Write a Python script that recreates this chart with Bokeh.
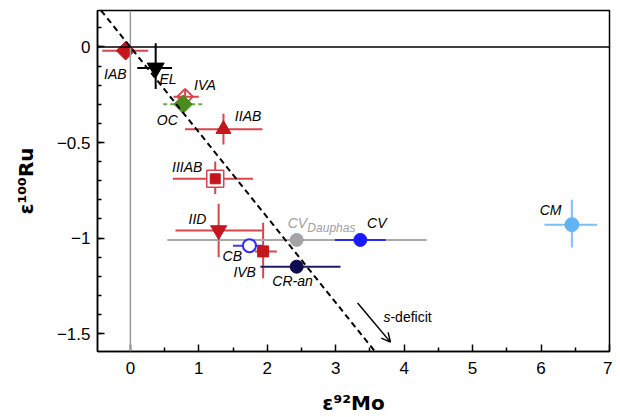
import math
from bokeh.plotting import figure
from bokeh.models import FixedTicker, Slope, Span, Arrow, OpenHead, ColumnDataSource
from bokeh.core.properties import value
from bokeh.embed import file_html
from bokeh.resources import INLINE

# ---- data ----
names = ["IAB", "EL", "IVA", "OC", "IIAB", "IIIAB", "IID", "CB", "IVB",
         "CV_Dauphas", "CV", "CR-an", "CM"]
mo92 = [-0.07, 0.37, 0.80, 0.77, 1.36, 1.24, 1.29, 1.74, 1.94, 2.43, 3.36, 2.43, 6.45]
ru100 = [-0.02, -0.11, -0.26, -0.30, -0.43, -0.69, -0.96, -1.04, -1.07, -1.01, -1.01, -1.15, -0.93]
mo92_lo = [-0.41, 0.10, 0.63, 0.48, 0.80, 0.62, 0.66, 1.50, 1.82, 0.54, 2.99, 1.90, 6.05]
mo92_hi = [0.26, 0.61, 1.00, 1.05, 1.93, 1.79, 1.93, 1.95, 2.14, 4.33, 3.73, 3.07, 6.82]
ru100_lo = [-0.05, -0.22, -0.30, -0.32, -0.51, -0.77, -1.10, -1.06, -1.21, -1.03, -1.03, -1.16, -1.05]
ru100_hi = [0.01, 0.02, -0.22, -0.28, -0.35, -0.60, -0.82, -1.02, -0.92, -0.99, -0.99, -1.14, -0.80]

# reference line of s-process deficit
sdef_slope = -0.446
arrow_from = (3.32, -1.34)
arrow_to = (3.80, -1.545)
arrow_label_at = (3.80, -1.415)

# label positions
label_x = [-0.22, 0.55, 1.09, 0.54, 1.72, 0.83, 0.98, 1.49, 1.67, 2.44, 3.60, 2.37, 6.14]
label_y = [-0.14, -0.165, -0.20, -0.38, -0.36, -0.63, -0.90, -1.095, -1.18, -0.92, -0.92, -1.225, -0.855]

x_ticks = [0, 1, 2, 3, 4, 5, 6, 7]
x_minor = [-0.5, 0.5, 1.5, 2.5, 3.5, 4.5, 5.5, 6.5]
y_ticks = [0, -0.5, -1, -1.5]
y_tick_labels = ["0", "\u22120.5", "\u22121", "\u22121.5"]
y_minor = [round(-0.1 * i, 1) for i in range(0, 17)] + [0.1]

x_title = "\u03b5\u2079\u00b2Mo"
y_title = "\u03b5\u00b9\u2070\u2070Ru"

# ---- styles ----
RED = "#c3161d"
RED_BAR = "#d8454b"
styles = {
    "IAB": dict(marker="square", size=13, angle=math.pi / 4, fill=RED, line=RED, bar=RED_BAR, dash="solid"),
    "EL": dict(marker="inverted_triangle", size=17, angle=0, fill="black", line="black", bar="black", dash="solid"),
    "IVA": dict(marker="square", size=11, angle=math.pi / 4, fill=None, line=RED_BAR, bar=RED_BAR, dash="solid"),
    "OC": dict(marker="square", size=13, angle=math.pi / 4, fill="#4b8b1d", line="#4b8b1d", bar="#6aaa4a", dash="4 3"),
    "IIAB": dict(marker="triangle", size=15, angle=0, fill=RED, line=RED, bar=RED_BAR, dash="solid"),
    "IIIAB": dict(marker="square", size=10, angle=0, fill=RED, line=RED, bar=RED_BAR, dash="solid"),
    "IID": dict(marker="inverted_triangle", size=16, angle=0, fill=RED, line=RED, bar=RED_BAR, dash="solid"),
    "CB": dict(marker="circle", size=13, angle=0, fill="white", line="#2e2ef5", bar="#3c3cf0", dash="solid"),
    "IVB": dict(marker="square", size=11, angle=0, fill=RED, line=RED, bar=RED_BAR, dash="solid"),
    "CV_Dauphas": dict(marker="circle", size=13, angle=0, fill="#a3a3a3", line="#a3a3a3", bar="#a8a8a8", dash="solid"),
    "CV": dict(marker="circle", size=13, angle=0, fill="#1a1aff", line="#1a1aff", bar="#2a2ae8", dash="solid"),
    "CR-an": dict(marker="circle", size=13, angle=0, fill="#0c0c4e", line="#0c0c4e", bar="#1c1c66", dash="solid"),
    "CM": dict(marker="circle", size=14, angle=0, fill="#62b3f4", line="#62b3f4", bar="#7cc0f5", dash="solid"),
}

p = figure(width=612, height=417, x_range=(-0.48, 7.0), y_range=(-1.594, 0.191),
           output_backend="svg", toolbar_location=None,
           min_border_left=97, min_border_right=3, min_border_top=10, min_border_bottom=66)
p.grid.visible = False
p.background_fill_color = "white"
p.outline_line_color = "black"
p.outline_line_width = 1.5

FONT = "Liberation Sans"
for ax in (p.xaxis[0], p.yaxis[0]):
    ax.major_tick_in = 7
    ax.major_tick_out = 0
    ax.minor_tick_in = 4
    ax.minor_tick_out = 0
    ax.axis_line_width = 1.5
    ax.major_tick_line_width = 1.5
    ax.minor_tick_line_width = 1.5
    ax.major_label_text_font = FONT
    ax.major_label_text_font_size = "17px"
    ax.major_label_text_color = "black"
    ax.axis_label_text_font = "DejaVu Sans"
    ax.axis_label_text_font_size = "20px"
    ax.axis_label_text_font_style = "bold"
    ax.axis_label_text_color = "black"

p.xaxis.ticker = FixedTicker(ticks=x_ticks, minor_ticks=x_minor)
p.yaxis.ticker = FixedTicker(ticks=y_ticks, minor_ticks=y_minor)
p.yaxis.major_label_overrides = {t: l for t, l in zip(y_ticks, y_tick_labels)}
p.xaxis.major_label_standoff = 10
p.yaxis.major_label_standoff = 7
p.xaxis.axis_label = x_title
p.yaxis.axis_label = y_title
p.xaxis.axis_label_standoff = 14
p.yaxis.axis_label_standoff = 16

# reference lines
p.add_layout(Span(location=0, dimension="height", line_color="#9a9a9a", line_width=1.5))
p.add_layout(Span(location=0, dimension="width", line_color="black", line_width=1.5))
p.add_layout(Slope(gradient=sdef_slope, y_intercept=0, line_color="black",
                   line_width=2, line_dash="6 4"))

# error bars
for i, n in enumerate(names):
    s = styles[n]
    p.segment(x0=[mo92_lo[i]], y0=[ru100[i]], x1=[mo92_hi[i]], y1=[ru100[i]],
              line_color=s["bar"], line_width=2, line_dash=s["dash"])
    p.segment(x0=[mo92[i]], y0=[ru100_lo[i]], x1=[mo92[i]], y1=[ru100_hi[i]],
              line_color=s["bar"], line_width=2, line_dash=s["dash"])

# markers
for i, n in enumerate(names):
    s = styles[n]
    if n == "IIIAB":
        p.scatter(x=[mo92[i]], y=[ru100[i]], marker="square", size=17, fill_color="white",
                  line_color=RED_BAR, line_width=1.5)
    p.scatter(x=[mo92[i]], y=[ru100[i]], marker=s["marker"], size=s["size"], angle=s["angle"],
              fill_color=s["fill"], line_color=s["line"], line_width=2 if n in ("CB", "IVA") else 1)

# labels
lab_text = [n for n in names]
lab_text[names.index("CV_Dauphas")] = "CV"
src = ColumnDataSource(dict(x=label_x, y=label_y, t=lab_text,
                            c=["#a0a0a0" if n == "CV_Dauphas" else "black" for n in names]))
p.text(x="x", y="y", text="t", source=src, text_color="c", text_font=value(FONT),
       text_font_size="14px", text_font_style="italic", text_align="center",
       text_baseline="middle")
i = names.index("CV_Dauphas")
p.text(x=[label_x[i] + 0.146], y=[label_y[i] - 0.028], text=["Dauphas"], text_color="#a0a0a0",
       text_font=value(FONT), text_font_size="12px", text_font_style="italic",
       text_align="left", text_baseline="middle")

# s-deficit arrow
p.add_layout(Arrow(x_start=arrow_from[0], y_start=arrow_from[1], x_end=arrow_to[0], y_end=arrow_to[1],
                   line_width=1.5, end=OpenHead(size=9, line_width=1.5)))
p.text(x=[arrow_label_at[0]], y=[arrow_label_at[1]], text=["s"], text_font=value(FONT),
       text_font_size="14px", text_font_style="italic", text_align="right", text_baseline="middle")
p.text(x=[arrow_label_at[0]], y=[arrow_label_at[1]], text=["-deficit"], text_font=value(FONT),
       text_font_size="14px", text_align="left", text_baseline="middle")

open("out.html", "w").write(file_html(p, INLINE))
